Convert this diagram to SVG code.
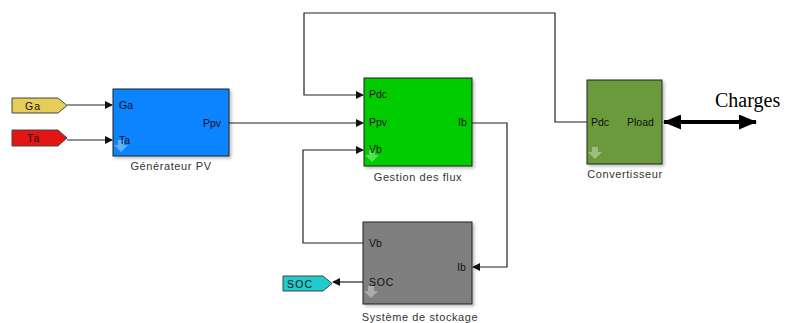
<svg xmlns="http://www.w3.org/2000/svg" width="786" height="323" viewBox="0 0 786 323">
<style>
.blk{stroke:#222;stroke-width:1}
.port{font-family:"Liberation Sans",Arial,sans-serif;font-size:10.5px;fill:#111}
.tt{font-family:"Liberation Sans",Arial,sans-serif;font-size:10.5px;fill:#111;letter-spacing:1.2px}
.cap{font-family:"Liberation Sans",Arial,sans-serif;font-size:11px;fill:#333;text-anchor:middle;letter-spacing:0.6px}
.w{fill:none;stroke:#222;stroke-width:1.2}
.tag{stroke:#444;stroke-width:1}
.ico{fill:#ffffff;opacity:0.35}
</style>
<defs>
<marker id="ah" markerWidth="8" markerHeight="8" refX="7" refY="4" orient="auto" markerUnits="userSpaceOnUse">
<path d="M0,0 L8,4 L0,8 Z" fill="#111"/>
</marker>
<marker id="big" markerWidth="18" markerHeight="15" refX="17" refY="7.5" orient="auto-start-reverse" markerUnits="userSpaceOnUse">
<path d="M0,0 L18,7.5 L0,15 Z" fill="#000"/>
</marker>
<filter id="sh" x="-10%" y="-10%" width="130%" height="130%">
<feDropShadow dx="2" dy="2" stdDeviation="1.5" flood-color="#000" flood-opacity="0.25"/>
</filter>
</defs>

<g id="connectors">
<path class="w" d="M67,105 H112" marker-end="url(#ah)"/>
<path class="w" d="M67,140 H112" marker-end="url(#ah)"/>
<path class="w" d="M229,123 H363" marker-end="url(#ah)"/>
<path class="w" d="M587,122 H555 V13 H304 V95 H363" marker-end="url(#ah)"/>
<path class="w" d="M363,243 H303 V150 H363" marker-end="url(#ah)"/>
<path class="w" d="M472,123 H507 V267 H473" marker-end="url(#ah)"/>
<path class="w" d="M363,282 H333" marker-end="url(#ah)"/>
<path d="M664,122 H756" stroke="#000" stroke-width="4" fill="none" marker-start="url(#big)" marker-end="url(#big)"/>
</g>

<g id="Ga">
<polygon class="tag" points="12,98 58,98 67,105.5 58,113 12,113" fill="#E6CD5A"/>
<text class="tt" x="25" y="109.5">Ga</text>
</g>
<g id="Ta">
<polygon class="tag" points="12,130 58,130 67,138 58,146 12,146" fill="#E31515"/>
<text class="tt" x="27" y="142">Ta</text>
</g>

<g id="generateur">
<rect class="blk" x="113" y="89" width="116" height="67" fill="#0A84FF" filter="url(#sh)"/>
<path class="ico" d="M118,140 h6 v5 h4 l-7,7 l-7,-7 h4 z"/>
<text class="port" x="119" y="109">Ga</text>
<text class="port" x="119" y="144">Ta</text>
<text class="port" x="203" y="127">Ppv</text>
<text class="cap" x="171" y="170">Générateur PV</text>
</g>

<g id="gestion">
<rect class="blk" x="364" y="78" width="108" height="88" fill="#00CC00" filter="url(#sh)"/>
<path class="ico" d="M369,150 h6 v5 h4 l-7,7 l-7,-7 h4 z"/>
<text class="port" x="369" y="98">Pdc</text>
<text class="port" x="369" y="126">Ppv</text>
<text class="port" x="369" y="153">Vb</text>
<text class="port" x="458" y="126">Ib</text>
<text class="cap" x="418" y="181">Gestion des flux</text>
</g>

<g id="convertisseur">
<rect class="blk" x="587" y="80" width="75" height="84" fill="#6B9A3A" filter="url(#sh)"/>
<path class="ico" d="M592,147 h6 v5 h4 l-7,7 l-7,-7 h4 z"/>
<text class="port" x="591" y="126">Pdc</text>
<text class="port" x="627" y="126">Pload</text>
<text class="cap" x="625" y="178">Convertisseur</text>
</g>

<g id="charges">
<text x="715" y="107" font-family="'Liberation Serif','Times New Roman',serif" font-size="20" fill="#000">Charges</text>
</g>

<g id="stockage">
<rect class="blk" x="363" y="222" width="109" height="82" fill="#7F7F7F" filter="url(#sh)"/>
<path class="ico" d="M368,286 h6 v5 h4 l-7,7 l-7,-7 h4 z"/>
<text class="port" x="369" y="247">Vb</text>
<text class="port" x="369" y="286" letter-spacing="0.8">SOC</text>
<text class="port" x="457" y="271">Ib</text>
<text class="cap" x="420" y="321">Système de stockage</text>
</g>

<g id="SOC">
<polygon class="tag" points="283,276 323,276 332,283.5 323,291 283,291" fill="#20CCCC"/>
<text class="tt" x="287" y="287.5">SOC</text>
</g>
</svg>
